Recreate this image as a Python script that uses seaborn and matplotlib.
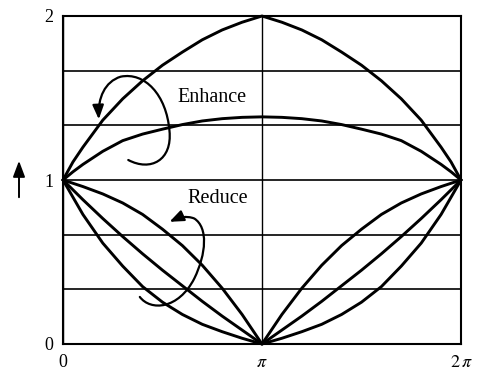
import numpy as np
import pandas as pd
import matplotlib
matplotlib.use("Agg")
import matplotlib.pyplot as plt
from matplotlib.path import Path
from matplotlib.patches import FancyArrowPatch
from matplotlib.ticker import MultipleLocator
import seaborn as sns

# abscissa in multiples of pi
x_over_pi = [0, 0.05, 0.1, 0.2, 0.3, 0.4, 0.5, 0.6, 0.7, 0.8, 0.9, 1.0,
             1.1, 1.2, 1.3, 1.4, 1.5, 1.6, 1.7, 1.8, 1.9, 1.95, 2.0]

enhance_strong = [1.0, 1.11, 1.2, 1.365, 1.495, 1.605, 1.70, 1.78, 1.855, 1.915, 1.962, 2.0,
                  1.962, 1.915, 1.855, 1.78, 1.70, 1.605, 1.495, 1.365, 1.2, 1.11, 1.0]
enhance_mild = [1.0, 1.05, 1.095, 1.175, 1.24, 1.28, 1.31, 1.338, 1.36, 1.374, 1.382, 1.385,
                1.382, 1.374, 1.36, 1.338, 1.31, 1.28, 1.24, 1.175, 1.095, 1.05, 1.0]
reduce_mild = [1.0, 0.98, 0.96, 0.915, 0.86, 0.79, 0.70, 0.60, 0.48, 0.34, 0.18, 0.0,
               0.18, 0.34, 0.48, 0.60, 0.70, 0.79, 0.86, 0.915, 0.96, 0.98, 1.0]
reduce_mid = [1.0, 0.94, 0.88, 0.765, 0.655, 0.55, 0.45, 0.355, 0.26, 0.17, 0.085, 0.0,
              0.085, 0.17, 0.26, 0.355, 0.45, 0.55, 0.655, 0.765, 0.88, 0.94, 1.0]
reduce_strong = [1.0, 0.895, 0.79, 0.615, 0.475, 0.35, 0.255, 0.18, 0.12, 0.075, 0.035, 0.0,
                 0.035, 0.075, 0.12, 0.18, 0.255, 0.35, 0.475, 0.615, 0.79, 0.895, 1.0]

x_tick_labels = ["0", r"$\pi$", r"$2\,\pi$"]
y_ticks = [0, 1, 2]
y_tick_labels = ["0", "1", "2"]

sns.set_theme(style="white")
plt.rcParams["font.family"] = ["Liberation Serif", "DejaVu Serif"]
plt.rcParams["mathtext.fontset"] = "stix"

curves = {
    "enhance_strong": enhance_strong,
    "enhance_mild": enhance_mild,
    "reduce_mild": reduce_mild,
    "reduce_mid": reduce_mid,
    "reduce_strong": reduce_strong,
}
x_rad = np.array(x_over_pi) * np.pi
df = pd.concat(
    [pd.DataFrame({"x": x_rad, "y": ys, "curve": name}) for name, ys in curves.items()],
    ignore_index=True,
)

fig = plt.figure(figsize=(4.9, 3.7), dpi=100)
ax = fig.add_axes([63 / 490, 1 - 344 / 370, 398 / 490, 328 / 370])

sns.lineplot(data=df, x="x", y="y", hue="curve", estimator=None, sort=False,
             palette=["black"] * len(curves), linewidth=2.1, legend=False, ax=ax)
for ln in ax.lines:
    ln.set_clip_on(False)
    ln.set_solid_joinstyle("round")

ax.set_xlim(0, 2 * np.pi)
ax.set_ylim(0, 2)
ax.set_xticks([0, np.pi, 2 * np.pi], x_tick_labels)
ax.set_yticks(y_ticks, y_tick_labels)
ax.yaxis.set_minor_locator(MultipleLocator(1 / 3))
ax.grid(True, which="both", axis="y", color="black", linewidth=1.2)
ax.grid(True, which="major", axis="x", color="black", linewidth=1.0)
ax.tick_params(which="both", length=0, labelsize=13, colors="black", pad=7)
ax.set_xlabel("")
ax.set_ylabel("")
for sp in ax.spines.values():
    sp.set_visible(True)
    sp.set_color("black")
    sp.set_linewidth(1.5)


def loop_arrow(points):
    verts = [(px * np.pi, py) for px, py in points]
    codes = [Path.MOVETO] + [Path.CURVE4] * (len(verts) - 1)
    patch = FancyArrowPatch(path=Path(verts, codes),
                            arrowstyle="-|>,head_length=0.7,head_width=0.28",
                            mutation_scale=12, lw=1.6, color="black")
    ax.add_patch(patch)


# curled arrow near "Enhance"
loop_arrow([(0.328, 1.122), (0.44, 1.05), (0.55, 1.12), (0.535, 1.30),
            (0.52, 1.52), (0.41, 1.66), (0.29, 1.63),
            (0.21, 1.60), (0.175, 1.50), (0.18, 1.37)])
# curled arrow near "Reduce"
loop_arrow([(0.386, 0.287), (0.44, 0.20), (0.58, 0.21), (0.66, 0.40),
            (0.72, 0.55), (0.73, 0.71), (0.66, 0.765),
            (0.62, 0.785), (0.58, 0.77), (0.535, 0.745)])

ax.text(0.748 * np.pi, 1.476, "Enhance", ha="center", va="baseline", fontsize=14.5, color="black")
ax.text(0.778 * np.pi, 0.86, "Reduce", ha="center", va="baseline", fontsize=14.5, color="black")

# upward arrow beside the vertical axis
ax.annotate("", xy=(19, 370 - 158), xytext=(19, 370 - 200), xycoords="figure pixels",
            textcoords="figure pixels", annotation_clip=False,
            arrowprops=dict(arrowstyle="-|>,head_length=0.8,head_width=0.3",
                            mutation_scale=12, color="black", lw=1.4))

fig.savefig("out.png", dpi=100)
